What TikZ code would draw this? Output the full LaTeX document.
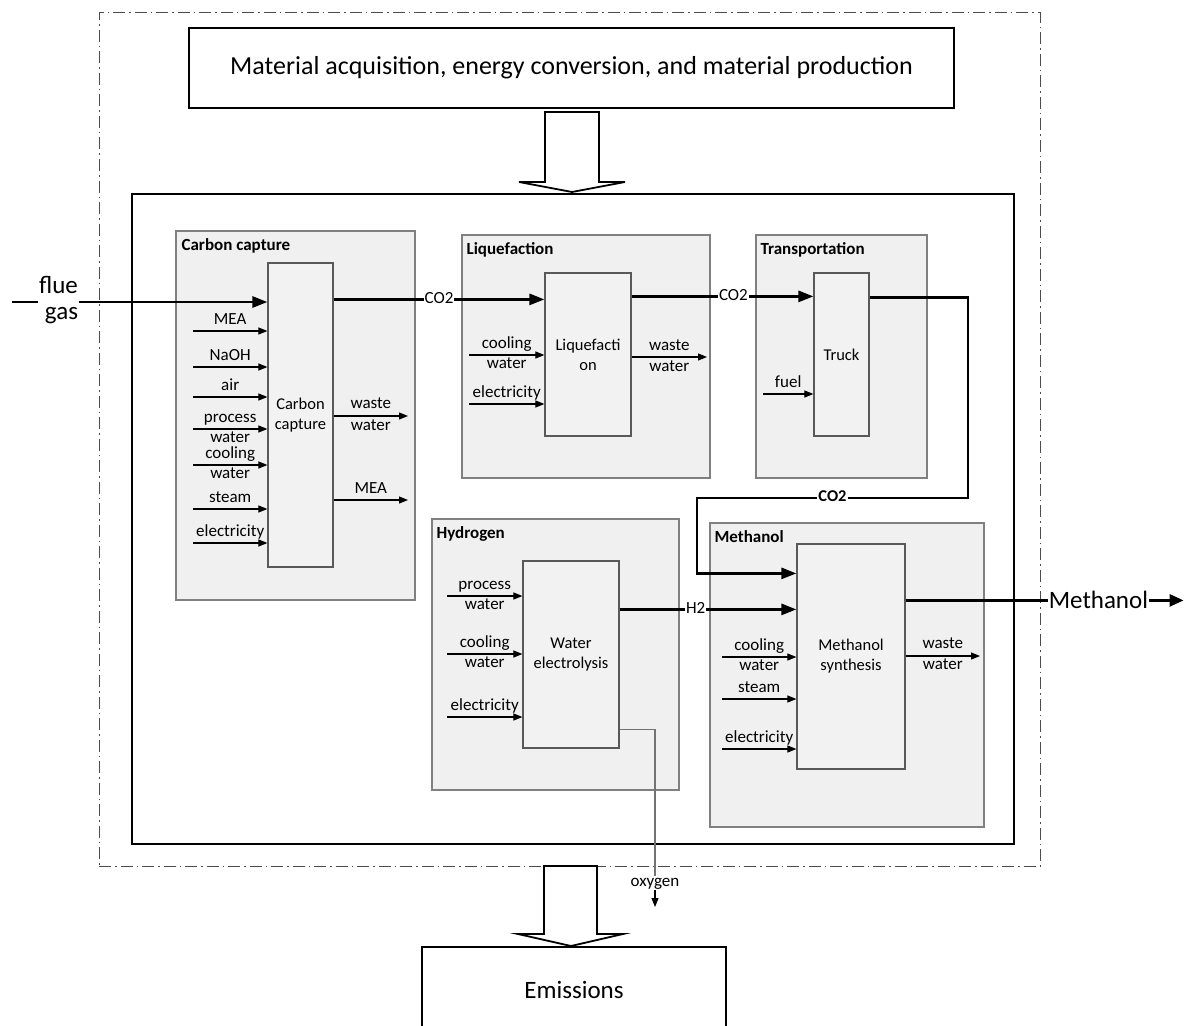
\documentclass[tikz,border=0pt]{standalone}
\usepackage{fontspec}
\setmainfont{Carlito}
\usetikzlibrary{arrows.meta}

\begin{document}
\begin{tikzpicture}[x=1pt, y=-1pt,
    boundary/.style={draw=black!70, line width=1pt, dash pattern=on 12pt off 4pt on 1.5pt off 4pt},
    bigbox/.style={draw, line width=1.6pt, font=\fontsize{26}{30}\selectfont},
    sysbox/.style={draw, line width=2.4pt},
    group/.style={draw=black!50, line width=1.2pt, fill=black!6},
    grouptitle/.style={anchor=base west, inner sep=0pt, font=\fontsize{17}{20}\selectfont\bfseries},
    unit/.style={draw=black!65, line width=1.2pt, fill=black!5, align=center, inner sep=2pt,
      font=\fontsize{16.5}{20}\selectfont},
    lbl/.style={inner sep=0pt, text height=11pt, text depth=3.5pt, font=\fontsize{17}{20}\selectfont},
    onflow/.style={lbl, fill=white, inner sep=1pt},
    boldflow/.style={onflow, font=\fontsize{16.5}{20}\selectfont\bfseries},
    bigtext/.style={inner sep=0.5pt, font=\fontsize{25}{30}\selectfont},
    inarr/.style={line width=1.1pt, -{Triangle[length=9pt, width=7pt]}},
    flow/.style={line width=2.6pt},
    flowarr/.style={flow, -{Triangle[length=15pt, width=11pt]}},
    blockarrow/.style={draw, line width=1.8pt, fill=white, line join=miter}
  ]
  \useasboundingbox (0,0) rectangle (1185,1025);

  % system boundary and the big boxes
  \node[boundary, minimum width=941pt, minimum height=853pt] (bound) at (569.5,439.5) {};
  \node[bigbox, minimum width=765pt, minimum height=80pt] (acq) at (571.5,68)
    {Material acquisition, energy conversion, and material production};
  \node[sysbox, minimum width=882pt, minimum height=650pt] (lca) at (573,519) {};
  \node[bigbox, line width=2pt, minimum width=304pt, minimum height=86pt,
    font=\fontsize{25}{30}\selectfont] (emis) at (574,990) {Emissions};

  % block arrows in and out of the system
  \draw[blockarrow] (545,112) -- (545,182) -- (519,182) -- (572,192) -- (625,182)
    -- (599,182) -- (599,112) -- cycle;
  \draw[blockarrow] (544,866) -- (544,934) -- (518,934) -- (571,946) -- (623,934)
    -- (597,934) -- (597,866) -- cycle;

  % process groups
  \node[group, minimum width=239pt, minimum height=369pt] (gcc) at (295.5,415.5) {};
  \node[group, minimum width=248pt, minimum height=243pt] (gliq) at (586,356.5) {};
  \node[group, minimum width=171pt, minimum height=243pt] (gtr) at (841.5,356.5) {};
  \node[group, minimum width=247pt, minimum height=271pt] (gh2) at (555.5,654.5) {};
  \node[group, minimum width=274pt, minimum height=304pt] (gme) at (847,675) {};

  \node[grouptitle] (tcc) at ([xshift=6pt, yshift=-20pt]gcc.north west) {Carbon capture};
  \node[grouptitle] (tliq) at ([xshift=5pt, yshift=-20pt]gliq.north west) {Liquefaction};
  \node[grouptitle] (ttr) at ([xshift=5pt, yshift=-20pt]gtr.north west) {Transportation};
  \node[grouptitle] (th2) at ([xshift=5pt, yshift=-20pt]gh2.north west) {Hydrogen};
  \node[grouptitle] (tme) at ([xshift=5pt, yshift=-20pt]gme.north west) {Methanol};

  % unit operations
  \node[unit, minimum width=65pt, minimum height=304pt] (cc) at (300.5,415) {Carbon\\capture};
  \node[unit, minimum width=86pt, minimum height=163pt] (liq) at (588,354.5) {Liquefacti\\on};
  \node[unit, minimum width=55pt, minimum height=163pt] (truck) at (841.5,354.5) {Truck};
  \node[unit, minimum width=96pt, minimum height=187pt] (ely) at (571,654.5) {Water\\electrolysis};
  \node[unit, minimum width=108pt, minimum height=225pt] (meoh) at (851,656.5) {Methanol\\synthesis};

  % main CO2 / H2 / methanol route
  \coordinate (fluein) at (12,302);
  \node[bigtext, anchor=base] (flue) at (58.5,293) {flue};
  \node[bigtext, anchor=base] (gas) at (61.5,319) {gas};
  \draw[flow] (fluein) -- (fluein -| flue.west);
  \draw[flowarr] (fluein -| flue.east) -- (fluein -| cc.west);

  \draw[flowarr] ([yshift=-37pt]cc.north east) -- node[onflow, pos=0.5] (co2a) {CO2}
    ([yshift=-27pt]liq.north west);
  \draw[flowarr] ([yshift=-24pt]liq.north east) -- node[onflow, pos=0.56] (co2b) {CO2}
    ([yshift=-24pt]truck.north west);

  \coordinate (retA) at (968,498);
  \coordinate (retB) at (697,498);
  \draw[flowarr] ([yshift=-25pt]truck.north east) -| (retA) -- node[boldflow] (co2c) {CO2}
    (retB) |- ([yshift=-30pt]meoh.north west);

  \draw[flowarr] ([yshift=-49pt]ely.north east) -- node[onflow, pos=0.43] (h2) {H2}
    ([yshift=-66pt]meoh.north west);

  \coordinate (meohsrc) at ([yshift=-57pt]meoh.north east);
  \node[bigtext, anchor=west, inner sep=1pt, text height=16pt, text depth=0pt] (meohout)
    at ([xshift=142pt]meohsrc) {Methanol};
  \coordinate (meohend) at ([xshift=136pt]meohout.west);
  \draw[line width=2.8pt] (meohsrc) -- (meohout.west);
  \draw[flow, -{Triangle[length=14pt, width=12pt]}] (meohout.east) -- (meohend);

  % carbon capture streams
  \foreach \yy/\txt [count=\i] in {331/MEA, 367/NaOH, 397/air, 509/steam, 543/electricity}{
    \coordinate (ccin\i) at (193,\yy);
    \draw[inarr] (ccin\i) -- (ccin\i -| cc.west) node[lbl, midway, yshift=10pt] {\txt};
  }
  \coordinate (ccpw) at (193,429);
  \draw[inarr] (ccpw) -- (ccpw -| cc.west)
    node[lbl, midway, yshift=10pt] {process} node[lbl, midway, yshift=-10pt] {water};
  \coordinate (cccw) at (193,465);
  \draw[inarr] (cccw) -- (cccw -| cc.west)
    node[lbl, midway, yshift=10pt] {cooling} node[lbl, midway, yshift=-10pt] {water};
  \coordinate (ccww) at (408,416);
  \draw[inarr] (ccww -| cc.east) -- (ccww)
    node[lbl, midway, yshift=11pt] {waste} node[lbl, midway, yshift=-11pt] {water};
  \coordinate (ccmea) at (408,500);
  \draw[inarr] (ccmea -| cc.east) -- (ccmea) node[lbl, midway, yshift=10pt] {MEA};

  % liquefaction streams
  \coordinate (liqcw) at (469,355);
  \draw[inarr] (liqcw) -- (liqcw -| liq.west)
    node[lbl, midway, yshift=10pt] {cooling} node[lbl, midway, yshift=-10pt] {water};
  \coordinate (liqel) at (469,404);
  \draw[inarr] (liqel) -- (liqel -| liq.west) node[lbl, midway, yshift=10pt] {electricity};
  \coordinate (liqww) at (707,357);
  \draw[inarr] (liqww -| liq.east) -- (liqww)
    node[lbl, midway, yshift=10pt] {waste} node[lbl, midway, yshift=-11pt] {water};

  % transport fuel
  \coordinate (trfuel) at (763,394);
  \draw[inarr] (trfuel) -- (trfuel -| truck.west) node[lbl, midway, yshift=10pt] {fuel};

  % electrolysis streams
  \coordinate (h2pw) at (447,596);
  \draw[inarr] (h2pw) -- (h2pw -| ely.west)
    node[lbl, midway, yshift=10pt] {process} node[lbl, midway, yshift=-10pt] {water};
  \coordinate (h2cw) at (447,654);
  \draw[inarr] (h2cw) -- (h2cw -| ely.west)
    node[lbl, midway, yshift=10pt] {cooling} node[lbl, midway, yshift=-10pt] {water};
  \coordinate (h2el) at (447,717);
  \draw[inarr] (h2el) -- (h2el -| ely.west) node[lbl, midway, yshift=10pt] {electricity};

  \node[lbl] (oxy) at (655,883) {oxygen};
  \coordinate (oxyend) at (655,907);
  \draw[line width=1.1pt, black!55] ([yshift=19pt]ely.south east) -| (oxy.north);
  \draw[inarr] (oxy.south) -- (oxyend);

  % methanol synthesis streams
  \coordinate (mecw) at (722,657);
  \draw[inarr] (mecw) -- (mecw -| meoh.west)
    node[lbl, midway, yshift=10pt] {cooling} node[lbl, midway, yshift=-10pt] {water};
  \coordinate (mest) at (722,699);
  \draw[inarr] (mest) -- (mest -| meoh.west) node[lbl, midway, yshift=10pt] {steam};
  \coordinate (meel) at (722,749);
  \draw[inarr] (meel) -- (meel -| meoh.west) node[lbl, midway, yshift=10pt] {electricity};
  \coordinate (meww) at (980,656);
  \draw[inarr] (meww -| meoh.east) -- (meww)
    node[lbl, midway, yshift=11pt] {waste} node[lbl, midway, yshift=-10pt] {water};
\end{tikzpicture}
\end{document}
